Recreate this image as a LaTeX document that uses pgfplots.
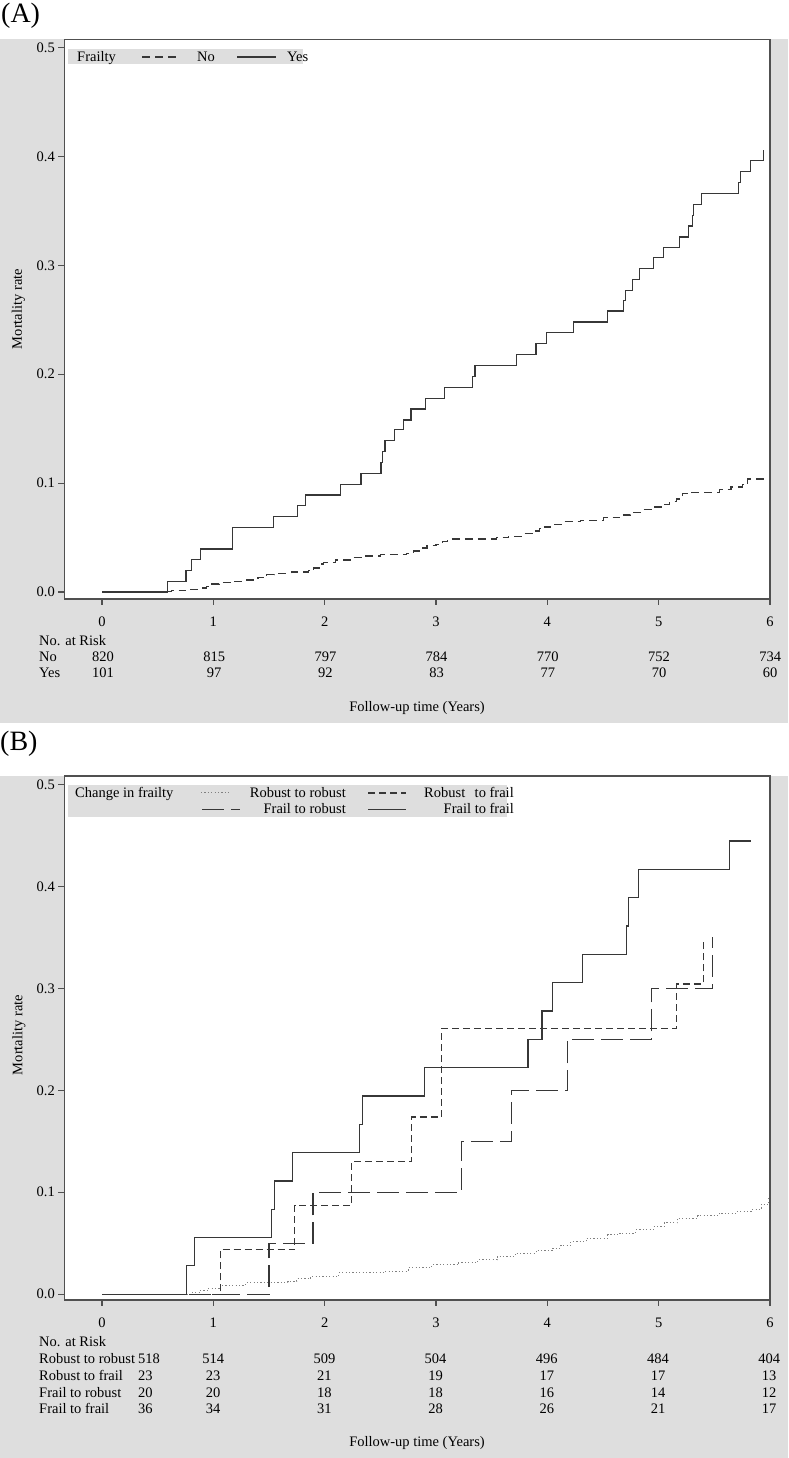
\documentclass[border=0pt]{standalone}
\usepackage{fontspec}
\setmainfont{Liberation Serif}
\usepackage{pgfplots}
\pgfplotsset{compat=1.18}

\definecolor{bggray}{RGB}{222,222,222}
\definecolor{axgray}{RGB}{80,80,80}
\definecolor{curve}{RGB}{55,55,55}

\pgfplotsset{kmaxis/.style={
  scale only axis,
  width=705.7pt,
  xmin=-0.339, xmax=6,
  axis background/.style={fill=white},
  axis line style={axgray, line width=1.2pt},
  tick style={axgray, line width=1.2pt},
  tick align=outside, tick pos=left,
  major tick length=6pt,
  xtick={0,1,2,3,4,5,6},
  ytick={0,0.1,0.2,0.3,0.4,0.5},
  yticklabel style={/pgf/number format/.cd, fixed, fixed zerofill, precision=1, assume math mode=true},
  xticklabel style={/pgf/number format/assume math mode=true, yshift=-8pt},
  tick label style={font=\fontsize{14.5}{16}\selectfont},
  every axis plot/.append style={line width=1.3pt, const plot, no markers},
}}
\tikzset{tab/.style={font=\fontsize{14.5}{16}\selectfont, inner sep=0pt}}

\begin{document}
\begin{tikzpicture}[x=1pt,y=1pt]
\useasboundingbox (0,0) rectangle (788,1458);

% ---------- panel A ----------
\fill[bggray] (0,735) rectangle (788,1418.5);
\node[anchor=west, inner sep=0pt, font=\fontsize{28}{30}\selectfont] at (1,1442.5) {(A)};

\begin{axis}[kmaxis,
  at={(64.3pt,859pt)}, anchor=south west,
  height=559.5pt,
  ymin=-0.0064, ymax=0.5074,
]
% Frailty = No
\addplot [curve, dash pattern=on 8pt off 5pt] coordinates {
(0,0) (0.58,0.0006) (0.626,0.0012) (0.75,0.0024) (0.895,0.0036) (0.94,0.0049)
(0.985,0.0073) (1.05,0.0085) (1.15,0.0098) (1.30,0.011) (1.40,0.0135)
(1.48,0.0159) (1.55,0.0171) (1.70,0.0183) (1.854,0.0195) (1.90,0.022)
(1.96,0.0256) (1.99,0.0269) (2.10,0.0293) (2.258,0.0317) (2.35,0.0330)
(2.50,0.0342) (2.737,0.0354) (2.80,0.0378) (2.86,0.0403) (2.92,0.0427)
(3.00,0.0439) (3.06,0.0464) (3.10,0.0476) (3.127,0.0488) (3.544,0.0500)
(3.65,0.0512) (3.794,0.0537) (3.87,0.0561) (3.93,0.0586) (3.96,0.0598)
(4.03,0.0622) (4.128,0.0647) (4.30,0.0659) (4.503,0.0684) (4.65,0.0708)
(4.75,0.0732) (4.837,0.0757) (4.95,0.0781) (5.045,0.0805) (5.10,0.0830)
(5.16,0.0854) (5.211,0.0903) (5.30,0.0915) (5.545,0.0940) (5.65,0.0964)
(5.754,0.0989) (5.80,0.1037) (5.95,0.1037)
};
% Frailty = Yes
\addplot [curve] coordinates {
(0,0) (0.587,0.0099) (0.755,0.0198) (0.806,0.0297) (0.886,0.0396)
(1.171,0.0594) (1.542,0.0693) (1.758,0.0792) (1.830,0.0891) (2.139,0.099)
(2.327,0.109) (2.507,0.119) (2.520,0.129) (2.543,0.139) (2.630,0.149)
(2.707,0.158) (2.776,0.168) (2.908,0.178) (3.076,0.188) (3.327,0.198)
(3.351,0.208) (3.726,0.218) (3.899,0.228) (3.995,0.238) (4.235,0.248)
(4.543,0.258) (4.684,0.2675) (4.705,0.277) (4.765,0.287) (4.828,0.297)
(4.954,0.307) (5.043,0.3165) (5.184,0.326) (5.268,0.336) (5.305,0.346)
(5.31,0.356) (5.387,0.366) (5.72,0.376) (5.738,0.386) (5.822,0.396)
(5.942,0.406)
};
\end{axis}

% legend A
\fill[bggray] (68,1393.7) rectangle (303,1409);
\node[tab,anchor=base west] at (77,1396.8) {Frailty};
\draw[curve, line width=1.3pt, dash pattern=on 8pt off 5pt] (142,1401) -- (180,1401);
\node[tab,anchor=base west] at (197,1396.8) {No};
\draw[curve, line width=1.3pt] (237,1401) -- (276,1401);
\node[tab,anchor=base west] at (287,1396.8) {Yes};

\node[tab,rotate=90] at (18.5,1149) {Mortality rate};

% risk table A
\node[tab,anchor=base west] at (39,812.8) {No. at Risk};
\node[tab,anchor=base west] at (39,796.3) {No};
\node[tab,anchor=base west] at (39,780.3) {Yes};
\foreach \v [count=\i from 0] in {820,815,797,784,770,752,734}
  \node[tab,anchor=base] at ({103+111.2*\i},796.3) {\v};
\foreach \v [count=\i from 0] in {101,97,92,83,77,70,60}
  \node[tab,anchor=base] at ({103+111.2*\i},780.3) {\v};
\node[tab,anchor=base] at (417,746.3) {Follow-up time (Years)};

% ---------- panel B ----------
\fill[bggray] (0,0) rectangle (788,682);
\node[anchor=west, inner sep=0pt, font=\fontsize{28}{30}\selectfont] at (0,714) {(B)};

\begin{axis}[kmaxis,
  at={(64.3pt,158pt)}, anchor=south west,
  height=524pt,
  ymin=-0.0057, ymax=0.5083,
]
% Robust to robust
\addplot [line width=1pt, gray, dash pattern=on 1.2pt off 2.2pt] coordinates {
(0,0) (0.81,0.002) (0.874,0.004) (0.95,0.006) (1.062,0.009) (1.291,0.0114)
(1.667,0.0124) (1.75,0.015) (1.875,0.0173) (2.126,0.0212) (2.543,0.0225)
(2.75,0.026) (2.96,0.0288) (3.2,0.031) (3.376,0.0337) (3.55,0.037)
(3.71,0.0402) (3.9,0.043) (4.044,0.0451) (4.12,0.048) (4.211,0.0517)
(4.35,0.055) (4.544,0.0583) (4.65,0.060) (4.795,0.0632) (4.95,0.066)
(5.05,0.070) (5.17,0.0746) (5.35,0.077) (5.545,0.0795) (5.7,0.081)
(5.837,0.0827) (5.92,0.088) (5.99,0.0958)
};
% Robust to frail
\addplot [curve, dash pattern=on 7pt off 4pt] coordinates {
(0,0) (1.062,0.0435) (1.729,0.0870) (2.242,0.1304) (2.78,0.1739)
(3.051,0.2609) (5.162,0.3043) (5.40,0.3478)
};
% Frail to robust
\addplot [curve, dash pattern=on 22pt off 7pt] coordinates {
(0,0) (1.50,0.05) (1.896,0.10) (3.231,0.15) (3.678,0.20) (4.178,0.25)
(4.933,0.30) (5.483,0.35)
};
% Frail to frail
\addplot [curve] coordinates {
(0,0) (0.757,0.0278) (0.832,0.0556) (1.52,0.0833) (1.55,0.1111)
(1.708,0.1389) (2.313,0.1667) (2.342,0.1944) (2.897,0.2222) (3.827,0.25)
(3.952,0.2778) (4.044,0.3056) (4.315,0.3333) (4.712,0.3611) (4.732,0.3889)
(4.816,0.4167) (5.637,0.4444) (5.825,0.4444)
};
\end{axis}

% legend B
\fill[bggray] (68,641) rectangle (507,673);
\node[tab,anchor=base west] at (75,660.6) {Change in frailty};
\draw[gray, line width=1pt, dash pattern=on 1.2pt off 2.2pt] (201,665) -- (231,665);
\node[tab,anchor=base east] at (346,660.6) {Robust to robust};
\draw[curve, line width=1.3pt, dash pattern=on 7pt off 4pt] (368,665) -- (406,665);
\node[tab,anchor=base east] at (514,660.6) {Robust\hspace{0.4em} to frail};
\draw[curve, line width=1.3pt, dash pattern=on 22pt off 7pt] (202,648.7) -- (240,648.7);
\node[tab,anchor=base east] at (346,644.3) {Frail to robust};
\draw[curve, line width=1.3pt] (368,648.7) -- (406,648.7);
\node[tab,anchor=base east] at (514,644.3) {Frail to frail};

\node[tab,rotate=90] at (19,423) {Mortality rate};

% risk table B
\node[tab,anchor=base west] at (39,111) {No. at Risk};
\node[tab,anchor=base west] at (39,94) {Robust to robust};
\node[tab,anchor=base west] at (39,77.3) {Robust to frail};
\node[tab,anchor=base west] at (39,60.6) {Frail to robust};
\node[tab,anchor=base west] at (39,44) {Frail to frail};
\node[tab,anchor=base west] at (138,94) {518};
\node[tab,anchor=base west] at (138,77.3) {23};
\node[tab,anchor=base west] at (138,60.6) {20};
\node[tab,anchor=base west] at (138,44) {36};
\foreach \v [count=\i] in {514,509,504,496,484,404}
  \node[tab,anchor=base] at ({102+111.2*\i},94) {\v};
\foreach \v [count=\i] in {23,21,19,17,17,13}
  \node[tab,anchor=base] at ({102+111.2*\i},77.3) {\v};
\foreach \v [count=\i] in {20,18,18,16,14,12}
  \node[tab,anchor=base] at ({102+111.2*\i},60.6) {\v};
\foreach \v [count=\i] in {34,31,28,26,21,17}
  \node[tab,anchor=base] at ({102+111.2*\i},44) {\v};
\node[tab,anchor=base] at (417,11.6) {Follow-up time (Years)};

\end{tikzpicture}
\end{document}
